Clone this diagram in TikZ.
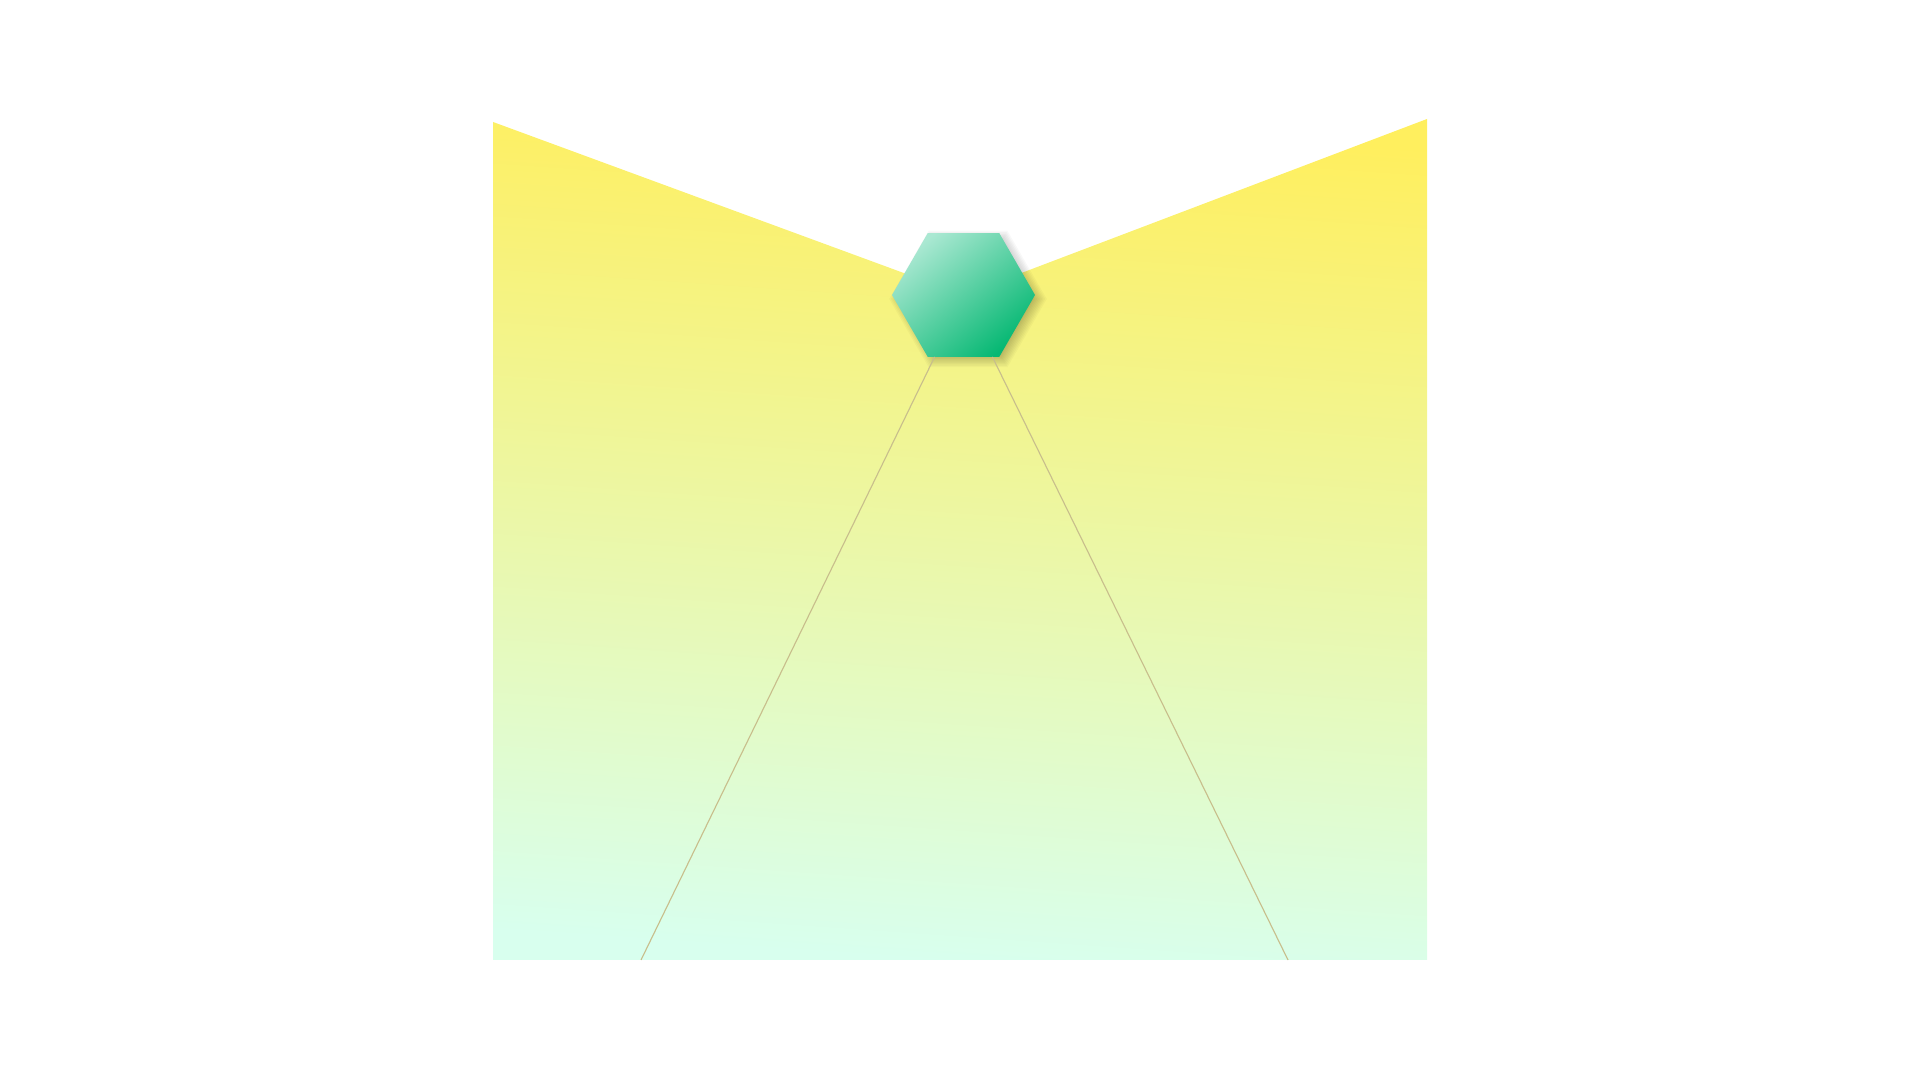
\documentclass[tikz,border=0pt]{standalone}
\usepackage{tikz}
\usetikzlibrary{positioning,
                shapes.geometric}
\usepackage{xcolor}
\definecolor{fanyellow}{HTML}{FFEF5E}
\definecolor{fanmid}{HTML}{F0F594}
\definecolor{fanmint}{HTML}{D8FFEE}
\definecolor{hexlight}{HTML}{AAE8D2}
\definecolor{hexgreen}{HTML}{06B873}
\definecolor{raytan}{HTML}{C8BE8C}

\begin{document}
\begin{tikzpicture}[x=1cm,y=1cm]

%--------------------------------------------------
% STYLES
%--------------------------------------------------

\tikzset{
hubhex/.style={
regular polygon,
regular polygon sides=6,
minimum size=1.43cm,
inner sep=0pt,
outer sep=0pt,
top color=hexlight,
bottom color=hexgreen,
shading angle=40
},
hubshade/.style={
fill=black,
opacity=0.028
},
rayline/.style={
draw=raytan,
line width=0.32pt
}
}

%--------------------------------------------------
% FRAME
%--------------------------------------------------

\useasboundingbox (0,0) rectangle (19.2,10.8);

%--------------------------------------------------
% FAN
%--------------------------------------------------

\shade[top color=fanyellow,middle color=fanmid,bottom color=fanmint,shading angle=-4]
(4.93,9.58) -- (9.635,7.85) -- (14.27,9.61)
-- (14.27,1.20) -- (4.93,1.20) -- cycle;

%--------------------------------------------------
% SHADOW
%--------------------------------------------------

\foreach \k in {0,...,8}
{
\pgfmathsetmacro\rr{0.66+0.016*\k}
\fill[hubshade,shift={(9.68,7.81)}]
(0:\rr) -- (60:\rr) -- (120:\rr) -- (180:\rr) -- (240:\rr) -- (300:\rr) -- cycle;
}

%--------------------------------------------------
% HUB
%--------------------------------------------------

\node[hubhex] (hub) at (9.635,7.85) {};

\coordinate (footl) at (6.41,1.20);
\coordinate (footr) at (12.88,1.20);

%--------------------------------------------------
% RAYS
%--------------------------------------------------

\draw[rayline] (hub.-115) -- (footl);
\draw[rayline] (hub.-65) -- (footr);

\end{tikzpicture}
\end{document}
